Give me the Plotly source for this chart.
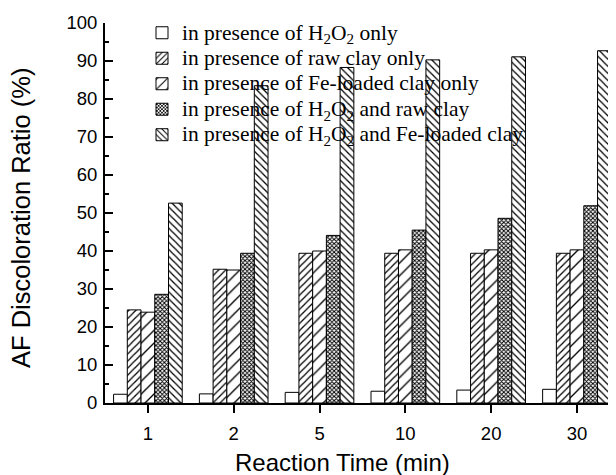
import plotly.graph_objects as go

# ---- data ----
times = ["1", "2", "5", "10", "20", "30"]
h2o2_only = [2.3, 2.4, 2.8, 3.1, 3.4, 3.6]
raw_clay_only = [24.5, 35.2, 39.4, 39.4, 39.4, 39.4]
fe_clay_only = [23.9, 35.0, 40.0, 40.3, 40.3, 40.3]
h2o2_raw_clay = [28.6, 39.4, 44.1, 45.5, 48.6, 51.9]
h2o2_fe_clay = [52.6, 83.5, 88.3, 90.3, 91.1, 92.7]

names = [
    "in presence of H<sub>2</sub>O<sub>2</sub> only",
    "in presence of raw clay only",
    "in presence of Fe-loaded clay only",
    "in presence of H<sub>2</sub>O<sub>2</sub> and raw clay",
    "in presence of H<sub>2</sub>O<sub>2</sub> and Fe-loaded clay",
]
series = [h2o2_only, raw_clay_only, fe_clay_only, h2o2_raw_clay, h2o2_fe_clay]
patterns = [
    dict(shape=""),
    dict(shape="/", size=5, solidity=0.25, fgcolor="black", bgcolor="white", fillmode="replace"),
    dict(shape="/", size=9, solidity=0.15, fgcolor="black", bgcolor="white", fillmode="replace"),
    dict(shape="x", size=3, solidity=0.55, fgcolor="black", bgcolor="white", fillmode="replace"),
    dict(shape="\\", size=5, solidity=0.25, fgcolor="black", bgcolor="white", fillmode="replace"),
]

fig = go.Figure()
for name, vals, pat in zip(names, series, patterns):
    fig.add_trace(go.Bar(
        x=times, y=vals,
        name="<span style='font-size:21.5px'>" + name + "</span>",
        marker=dict(color="white", line=dict(color="black", width=1), pattern=pat),
    ))

# page body has an 8px margin; figure sized to fill the rest of the window
W, H = 608, 467
ml, mr, mt, mb = 97, 0, 15, 72
pw, ph = W - ml - mr, H - mt - mb

fig.update_layout(
    width=W, height=H,
    margin=dict(l=ml, r=mr, t=mt, b=mb),
    paper_bgcolor="white", plot_bgcolor="white",
    barmode="group", bargap=0.2, bargroupgap=0,
    font=dict(family="Liberation Sans, Arial", color="black", size=18),
    showlegend=True,
    legend=dict(
        x=(134 - ml) / pw, y=1.021, xanchor="left", yanchor="top",
        bgcolor="rgba(0,0,0,0)", borderwidth=0,
        font=dict(family="Liberation Serif, Times New Roman", size=17.3, color="black"),
        tracegroupgap=0, traceorder="normal",
    ),
    xaxis=dict(
        type="category", range=[-0.5, 5.455],
        showline=True, linecolor="black", linewidth=2,
        ticks="outside", ticklen=8, tickwidth=2, tickcolor="black",
        tickfont=dict(size=18.5), showgrid=False, zeroline=False,
        ticklabelstandoff=5,
    ),
    yaxis=dict(
        range=[0, 100], tickvals=[0, 10, 20, 30, 40, 50, 60, 70, 80, 90, 100],
        showline=True, linecolor="black", linewidth=2,
        ticks="inside", ticklen=8, tickwidth=2, tickcolor="black",
        minor=dict(ticks="inside", ticklen=4, tickwidth=2, tickcolor="black", dtick=5, tick0=0),
        tickfont=dict(size=18.5), showgrid=False, zeroline=False,
        ticklabelstandoff=2,
    ),
    annotations=[
        dict(text="Reaction Time (min)", xref="paper", yref="paper",
             x=(334 - ml) / pw, y=(395 - 454) / ph, xanchor="center", yanchor="middle",
             showarrow=False, font=dict(size=24)),
        dict(text="AF Discoloration Ratio (%)", xref="paper", yref="paper",
             x=(13 - ml) / pw, y=(395 - 210) / ph, xanchor="center", yanchor="middle",
             textangle=-90, showarrow=False, font=dict(size=25.5)),
    ],
)

fig.write_html("out.html")
